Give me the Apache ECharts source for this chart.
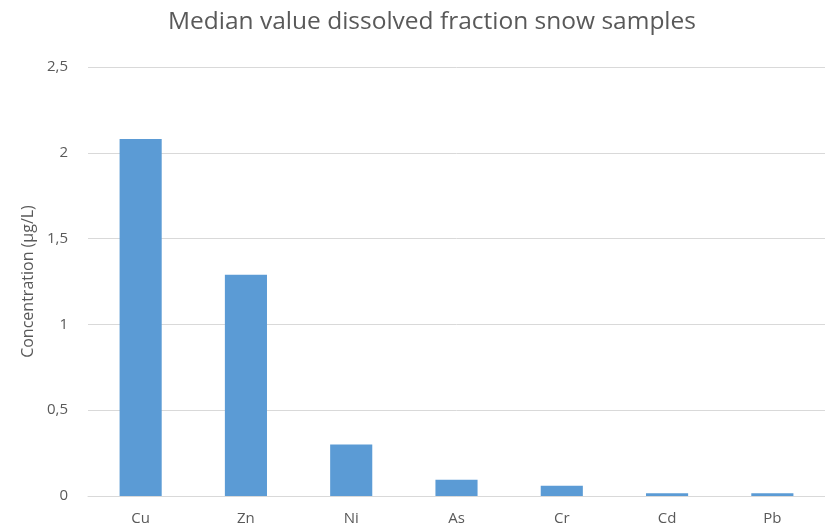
<!DOCTYPE html>
<html>
<head>
<meta charset="utf-8">
<script src="https://cdn.jsdelivr.net/npm/echarts@6/dist/echarts.min.js"></script>
<style>
  html, body { margin: 0; padding: 0; background: #ffffff; }
  #chart { width: 825px; height: 529px; }
</style>
</head>
<body>
<div id="chart"></div>
<script>
// Metals measured in the dissolved fraction of snow samples
const metals = ['Cu', 'Zn', 'Ni', 'As', 'Cr', 'Cd', 'Pb'];
// Median concentrations (µg/L)
const medianValues = [2.08, 1.29, 0.30, 0.095, 0.06, 0.016, 0.016];
// Value axis range and step
const yMin = 0;
const yMax = 2.5;
const yStep = 0.5;

const chart = echarts.init(document.getElementById('chart'), null, { renderer: 'canvas' });

const textColor = '#595959';
const fontFamily = '"Open Sans", Lato, sans-serif';

chart.setOption({
  animation: false,
  backgroundColor: '#ffffff',
  title: {
    text: 'Median value dissolved fraction snow samples',
    left: 427,
    textAlign: 'center',
    top: 5,
    textStyle: { color: textColor, fontSize: 24.5, fontWeight: 'normal', fontFamily: fontFamily }
  },
  grid: { left: 88, top: 67, width: 754, height: 429, containLabel: false },
  xAxis: {
    type: 'category',
    data: metals,
    axisLine: { show: true, lineStyle: { color: '#d9d9d9', width: 1 } },
    axisTick: { show: false },
    axisLabel: { color: textColor, fontSize: 15, fontFamily: fontFamily, margin: 15 }
  },
  yAxis: {
    type: 'value',
    min: yMin,
    max: yMax,
    interval: yStep,
    name: 'Concentration (µg/L)',
    nameLocation: 'middle',
    nameGap: 52,
    nameTextStyle: { color: textColor, fontSize: 16, fontFamily: fontFamily },
    axisLine: { show: false },
    axisTick: { show: false },
    splitLine: { lineStyle: { color: '#d9d9d9', width: 1 } },
    axisLabel: {
      color: textColor,
      fontSize: 15,
      fontFamily: fontFamily,
      margin: 20,
      formatter: v => String(v).replace('.', ',')
    }
  },
  series: [{
    type: 'bar',
    data: medianValues,
    barCategoryGap: '60%',
    itemStyle: { color: '#5b9bd5' }
  }]
});
</script>
</body>
</html>
